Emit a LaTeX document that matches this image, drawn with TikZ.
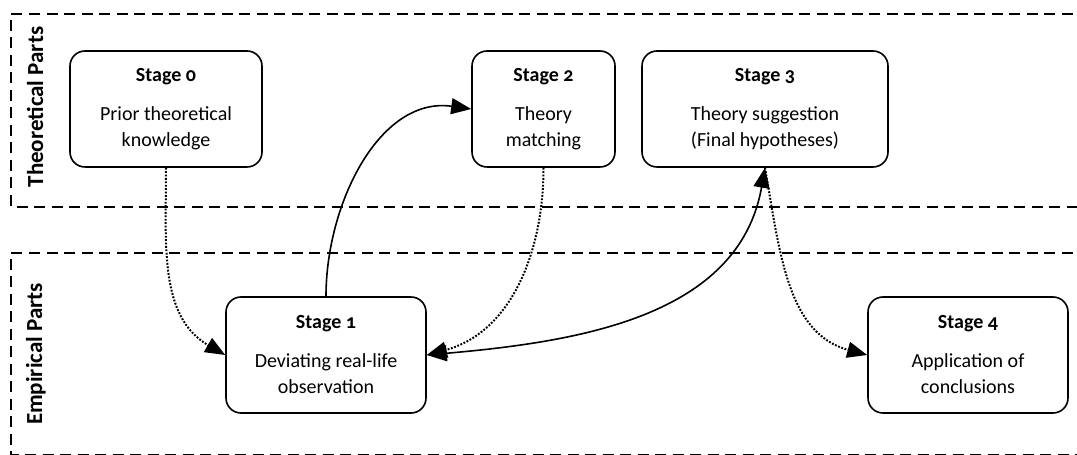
\documentclass[tikz,border=0pt]{standalone}
\usepackage{fontspec}
\setmainfont{Carlito}[Numbers=OldStyle]
\usetikzlibrary{arrows.meta}
\begin{document}
\begin{tikzpicture}[x=1pt,y=1pt,
  stagebox/.style={draw, line width=1.6pt, rounded corners=15pt,
    minimum height=116pt, align=center, inner sep=0pt,
    font=\fontsize{20}{26}\selectfont},
  region/.style={draw, line width=1.5pt, dash pattern=on 11pt off 6.5pt},
  regionlabel/.style={rotate=90, anchor=base, inner sep=0pt,
    font=\fontsize{23}{26}\selectfont\bfseries},
  tip/.style={-{Triangle[length=20pt,width=16pt]}},
  flow/.style={line width=1.6pt, tip},
  dotflow/.style={line width=2pt, dash pattern=on 1.8pt off 1.6pt, tip}
]
\useasboundingbox (0,0) rectangle (1077,455);

% dashed bands for the two parts
\begin{scope}
  \clip (0,0) rectangle (1077,455);
  \draw[region] (1090,441) -- (11,441) -- (11,248) -- (1090,248);
  \draw[region] (1090,202) -- (11,202) -- (11,0) -- (1090,0);
\end{scope}

\node[regionlabel] (lt) at (43,348) {Theoretical Parts};
\node[regionlabel] (le) at (42,101) {Empirical Parts};

% stages
\node[stagebox, minimum width=192pt] (s0) at (166,346)
  {\textbf{Stage 0}\\[13pt]Prior theoretical\\knowledge};
\node[stagebox, minimum width=143pt] (s2) at (543.5,346)
  {\textbf{Stage 2}\\[13pt]Theory\\matching};
\node[stagebox, minimum width=246pt] (s3) at (765,346)
  {\textbf{Stage 3}\\[13pt]Theory suggestion\\(Final hypotheses)};
\node[stagebox, minimum width=200pt] (s1) at (326,100)
  {\textbf{Stage 1}\\[13pt]Deviating real-life\\observation};
\node[stagebox, minimum width=200pt] (s4) at (968,100)
  {\textbf{Stage 4}\\[13pt]Application of\\conclusions};

% connectors
\draw[dotflow] (s0.south) to[out=-90,in=150] (s1.west);
\draw[flow] (s1.north) to[out=90,in=172] (s2.west);
\draw[dotflow] (s2.south) to[out=-90,in=15] (s1.east);
\draw[line width=1.6pt, {Triangle[length=20pt,width=16pt]}-{Triangle[length=20pt,width=16pt]}]
  (s3.south) to[out=-100,in=5] (s1.east);
\draw[dotflow] (s3.south) to[out=-80,in=165] (s4.west);
\end{tikzpicture}
\end{document}
